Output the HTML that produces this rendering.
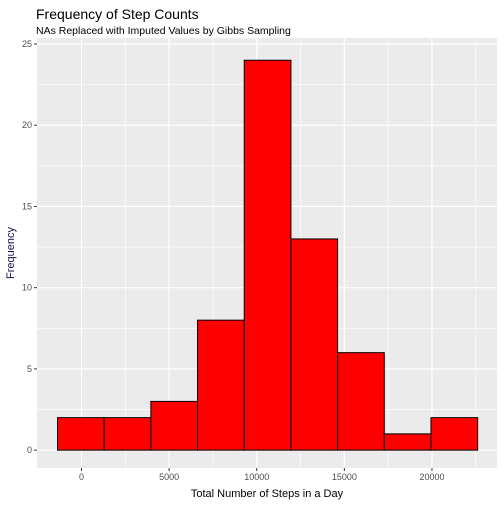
<!DOCTYPE html>
<html><head><meta charset="utf-8"><style>
body{margin:0;background:#fff;font-family:"Liberation Sans",Arial,sans-serif}
svg text{font-family:"Liberation Sans",Arial,sans-serif}
</style></head><body>
<svg id="chart" width="504" height="504" xmlns="http://www.w3.org/2000/svg">
<text x="36" y="19" font-size="14" fill="#000">Frequency of Step Counts</text>
<text x="36" y="34" font-size="10.5" fill="#000">NAs Replaced with Imputed Values by Gibbs Sampling</text>
<rect x="37" y="38" width="460" height="430" fill="#ebebeb"/>
<g id="grid"></g><g id="bars"></g><g id="axes"></g>
<text x="267" y="497" font-size="11" text-anchor="middle" fill="#000">Total Number of Steps in a Day</text>
<text transform="translate(14,253) rotate(-90)" font-size="11" text-anchor="middle" fill="#10104a">Frequency</text>
</svg>
<script>
const binStart = -1369;
const binWidth = 2664;
const counts = [2,2,3,8,24,13,6,1,2];
const xTicks = [0,5000,10000,15000,20000];
const yTicks = [0,5,10,15,20,25];
const NS="http://www.w3.org/2000/svg";
const X0=-2539,X1=23711,Y0=-1.1,Y1=25.37;
const L=37,R=497,T=38,B=468;
const sx=v=>L+(v-X0)/(X1-X0)*(R-L);
const sy=v=>B-(v-Y0)/(Y1-Y0)*(B-T);
function mk(tag,attrs,parent){const e=document.createElementNS(NS,tag);for(const k in attrs)e.setAttribute(k,attrs[k]);parent.appendChild(e);return e;}
const grid=document.getElementById('grid'),bars=document.getElementById('bars'),axes=document.getElementById('axes');
for(let i=0;i<xTicks.length;i++){
  const v=xTicks[i];
  if(i>0){const m=mk('line',{x1:sx(v-2500),x2:sx(v-2500),y1:T,y2:B,stroke:'#fff','stroke-width':0.6},grid);
  }
  const g=mk('line',{x1:sx(v),x2:sx(v),y1:T,y2:B,stroke:'#fff','stroke-width':1.2},grid);
  
  const t=mk('text',{x:sx(v),y:B+12,'font-size':9,'text-anchor':'middle',fill:'#4d4d4d'},axes);t.textContent=v;
  
  mk('line',{x1:sx(v),x2:sx(v),y1:B,y2:B+3,stroke:'#333'},axes);
}
{const m=mk('line',{x1:sx(22500),x2:sx(22500),y1:T,y2:B,stroke:'#fff','stroke-width':0.6},grid);
}
for(let i=0;i<yTicks.length;i++){
  const v=yTicks[i];
  if(i>0){const m=mk('line',{x1:L,x2:R,y1:sy(v-2.5),y2:sy(v-2.5),stroke:'#fff','stroke-width':0.6},grid);
  }
  const g=mk('line',{x1:L,x2:R,y1:sy(v),y2:sy(v),stroke:'#fff','stroke-width':1.2},grid);
  
  const t=mk('text',{x:L-5,y:sy(v)+3,'font-size':9,'text-anchor':'end',fill:'#4d4d4d'},axes);t.textContent=v;
  
  mk('line',{x1:L-3,x2:L,y1:sy(v),y2:sy(v),stroke:'#333'},axes);
}
for(let i=0;i<counts.length;i++){
  const a=binStart+i*binWidth,b=a+binWidth;
  const r=mk('rect',{x:sx(a),y:sy(counts[i]),width:sx(b)-sx(a),height:sy(0)-sy(counts[i]),fill:'#ff0000',stroke:'#000','stroke-width':1},bars);
  
  
}
</script>
</body></html>
